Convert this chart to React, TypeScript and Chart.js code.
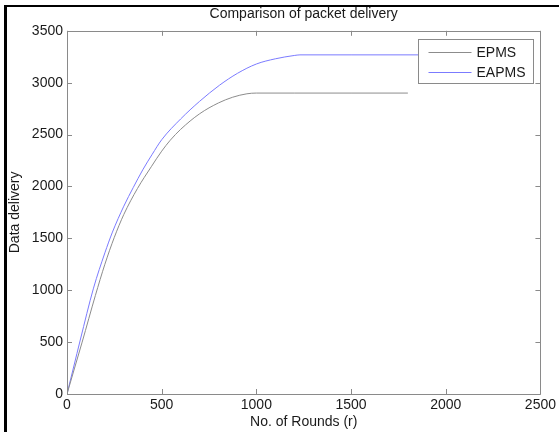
import React, { useEffect, useRef } from "react";
import { Chart, registerables } from "chart.js";

Chart.register(...registerables);

const titleText = "Comparison of packet delivery";
const xAxisTitle = "No. of Rounds (r)";
const yAxisTitle = "Data delivery";
const seriesLabels = ["EPMS", "EAPMS"];

const epmsRounds = [0, 40, 80, 150, 200, 250, 300, 372, 445, 500, 545, 600, 700, 800, 875, 950, 1000, 1200, 1500, 1800];
const epmsValues = [0, 250, 500, 950, 1250, 1510, 1730, 1980, 2190, 2340, 2445, 2550, 2700, 2805, 2860, 2893, 2900, 2900, 2900, 2900];

const eapmsRounds = [0, 35, 70, 140, 200, 240, 300, 350, 400, 450, 500, 600, 700, 805, 900, 1000, 1100, 1200, 1230, 1500, 2000];
const eapmsValues = [0, 260, 520, 1020, 1360, 1560, 1810, 1990, 2160, 2310, 2450, 2650, 2820, 2975, 3090, 3180, 3230, 3262, 3268, 3268, 3268];

const xMin = 0;
const xMax = 2500;
const xStep = 500;
const yMin = 0;
const yMax = 3500;
const yStep = 500;

const FONT = "'Liberation Sans', Arial, Helvetica, sans-serif";
const FONT_SIZE = 14;
const AXIS_COLOR = "#8a8a8a";
const TEXT_COLOR = "#1a1a1a";
const colors = ["#8c8c8c", "#7b7bff"];

const framePlugin = {
  id: "frame",
  beforeDraw(chart: any) {
    const { ctx, width, height } = chart;
    ctx.save();
    ctx.fillStyle = "#ffffff";
    ctx.fillRect(0, 0, width, height);
    ctx.fillStyle = "#000000";
    ctx.fillRect(4, 5, width - 4, 2);
    ctx.fillRect(4, 5, 3, height - 5);
    ctx.restore();
  },
};

const boxPlugin = {
  id: "matlabBox",
  afterDatasetsDraw(chart: any) {
    const { ctx, chartArea } = chart;
    const { left, right, top, bottom } = chartArea;
    const xs = chart.scales.x;
    const ys = chart.scales.y;
    ctx.save();
    ctx.strokeStyle = AXIS_COLOR;
    ctx.lineWidth = 1;
    ctx.beginPath();
    ctx.rect(Math.round(left) + 0.5, Math.round(top) + 0.5, Math.round(right - left), Math.round(bottom - top));
    ctx.stroke();
    const tl = 5;
    ctx.beginPath();
    xs.ticks.forEach((t: any) => {
      const px = Math.round(xs.getPixelForValue(t.value)) + 0.5;
      ctx.moveTo(px, bottom);
      ctx.lineTo(px, bottom - tl);
      ctx.moveTo(px, top);
      ctx.lineTo(px, top + tl);
    });
    ys.ticks.forEach((t: any) => {
      const py = Math.round(ys.getPixelForValue(t.value)) + 0.5;
      ctx.moveTo(left, py);
      ctx.lineTo(left + tl, py);
      ctx.moveTo(right, py);
      ctx.lineTo(right - tl, py);
    });
    ctx.stroke();

    // legend (MATLAB style, inside the axes, north-east)
    const datasets = chart.data.datasets;
    const lx = Math.round(right - 122) + 0.5;
    const ly = Math.round(top + 8) + 0.5;
    const lw = 115;
    const lh = 44;
    ctx.fillStyle = "#ffffff";
    ctx.fillRect(lx, ly, lw, lh);
    ctx.strokeStyle = AXIS_COLOR;
    ctx.strokeRect(lx, ly, lw, lh);
    ctx.font = `${FONT_SIZE}px ${FONT}`;
    ctx.textBaseline = "middle";
    ctx.textAlign = "left";
    datasets.forEach((ds: any, i: number) => {
      const y = Math.round(ly + 12 + i * 20) + 0.5;
      ctx.strokeStyle = ds.borderColor;
      ctx.beginPath();
      ctx.moveTo(lx + 10, y);
      ctx.lineTo(lx + 53, y);
      ctx.stroke();
      ctx.fillStyle = TEXT_COLOR;
      ctx.fillText(ds.label, lx + 58, y + 0.5);
    });
    ctx.restore();
  },
};

export default function App() {
  const canvasRef = useRef<HTMLCanvasElement | null>(null);

  useEffect(() => {
    const canvas = canvasRef.current;
    if (!canvas) return;
    const chart = new Chart(canvas, {
      type: "line",
      data: {
        datasets: [
          {
            label: seriesLabels[0],
            data: epmsRounds.map((r, i) => ({ x: r, y: epmsValues[i] })),
            borderColor: colors[0],
            backgroundColor: colors[0],
            borderWidth: 1,
            pointRadius: 0,
            cubicInterpolationMode: "monotone",
            fill: false,
          },
          {
            label: seriesLabels[1],
            data: eapmsRounds.map((r, i) => ({ x: r, y: eapmsValues[i] })),
            borderColor: colors[1],
            backgroundColor: colors[1],
            borderWidth: 1,
            pointRadius: 0,
            cubicInterpolationMode: "monotone",
            fill: false,
          },
        ],
      },
      options: {
        responsive: false,
        animation: false,
        devicePixelRatio: 1,
        layout: { padding: { left: 0, right: 18, top: 0, bottom: 0 } },
        plugins: {
          legend: { display: false },
          tooltip: { enabled: false },
          title: {
            display: true,
            text: titleText,
            fullSize: false,
            color: TEXT_COLOR,
            font: { family: FONT, size: FONT_SIZE, weight: "normal" },
            padding: { top: 6, bottom: 8 },
          },
        },
        scales: {
          x: {
            type: "linear",
            min: xMin,
            max: xMax,
            grid: { display: false, drawTicks: false },
            border: { display: false },
            ticks: {
              stepSize: xStep,
              padding: 3,
              color: TEXT_COLOR,
              font: { family: FONT, size: FONT_SIZE },
              maxRotation: 0,
              callback: (v: any) => String(v),
            },
            title: {
              display: true,
              text: xAxisTitle,
              color: TEXT_COLOR,
              font: { family: FONT, size: FONT_SIZE },
              padding: { top: 0, bottom: 1 },
            },
            afterFit(scale: any) {
              scale.height = 38;
            },
          },
          y: {
            type: "linear",
            min: yMin,
            max: yMax,
            grid: { display: false, drawTicks: false },
            border: { display: false },
            ticks: {
              stepSize: yStep,
              padding: 4,
              color: TEXT_COLOR,
              font: { family: FONT, size: FONT_SIZE },
              callback: (v: any) => String(v),
            },
            title: {
              display: true,
              text: yAxisTitle,
              color: TEXT_COLOR,
              font: { family: FONT, size: FONT_SIZE },
              padding: { top: 7, bottom: 0 },
            },
            afterFit(scale: any) {
              scale.width = 67;
            },
          },
        },
      },
      plugins: [framePlugin, boxPlugin],
    } as any);
    return () => chart.destroy();
  }, []);

  return (
    <div style={{ position: "fixed", left: 0, top: 0, width: 559, height: 432, background: "#fff" }}>
      <canvas ref={canvasRef} width={559} height={432} style={{ display: "block" }} />
    </div>
  );
}
